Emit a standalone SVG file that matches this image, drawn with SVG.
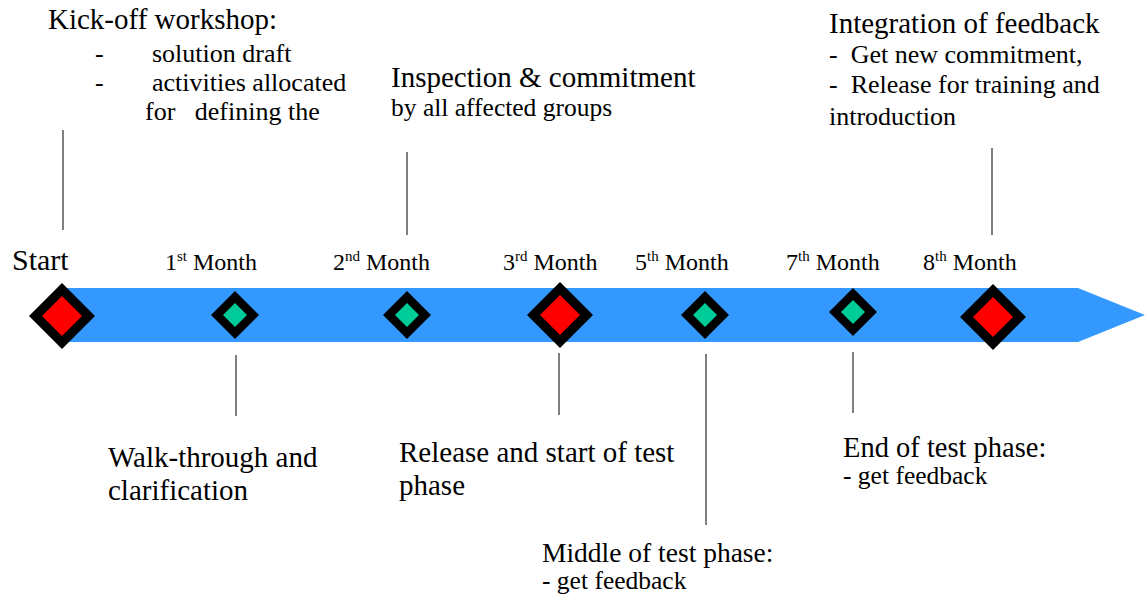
<svg xmlns="http://www.w3.org/2000/svg" width="1145" height="601" viewBox="0 0 1145 601">
  <style>
    text { font-family: "Liberation Serif", "Times New Roman", serif; fill: #000; }
    .title { font-size: 29px; }
    .sub { font-size: 26px; }
    .note { font-size: 25.5px; }
    .month { font-size: 24px; }
    .sup { font-size: 15px; }
    .lead { stroke: #808080; stroke-width: 2; fill: none; }
    .frame { fill: #000; }
    .red { fill: #FF0000; }
    .green { fill: #00CC99; }
  </style>
  <defs>
    <!-- milestone markers: outer black diamond + coloured core -->
    <g id="major">
      <polygon class="frame" points="0,-33 33,0 0,33 -33,0"/>
      <polygon class="red" points="0,-20 20,0 0,20 -20,0"/>
    </g>
    <g id="minor">
      <polygon class="frame" points="0,-24 24,0 0,24 -24,0"/>
      <polygon class="green" points="0,-12 12,0 0,12 -12,0"/>
    </g>
  </defs>

  <!-- timeline arrow -->
  <g id="timeline">
    <polygon points="66,288 1078,288 1145,315 1078,342 66,342" fill="#3399FF"/>
  </g>

  <!-- leader lines -->
  <g id="connectors">
    <line class="lead" x1="63" y1="130" x2="63" y2="230"/>
    <line class="lead" x1="407" y1="152" x2="407" y2="235"/>
    <line class="lead" x1="992" y1="148" x2="992" y2="235"/>
    <line class="lead" x1="236" y1="355" x2="236" y2="416"/>
    <line class="lead" x1="559" y1="353" x2="559" y2="415"/>
    <line class="lead" x1="706" y1="354" x2="706" y2="525"/>
    <line class="lead" x1="853" y1="352" x2="853" y2="413"/>
  </g>

  <!-- milestones -->
  <g id="m-start">
    <use href="#major" x="62" y="316"/>
    <text x="12" y="270" style="font-size:30px">Start</text>
    <text class="title" x="48" y="29">Kick-off workshop:</text>
    <text class="sub" x="95" y="62">-</text>
    <text class="sub" x="152" y="62">solution draft</text>
    <text class="sub" x="95" y="91">-</text>
    <text class="sub" x="152" y="91">activities allocated</text>
    <text class="sub" x="145" y="120" xml:space="preserve">for   defining the</text>
  </g>

  <g id="m-month1">
    <use href="#minor" x="235" y="315"/>
    <text class="month" x="165" y="270">1<tspan class="sup" dy="-9">st</tspan><tspan dy="9"> Month</tspan></text>
    <text class="title" x="108" y="467">Walk-through and</text>
    <text class="title" x="108" y="500">clarification</text>
  </g>

  <g id="m-month2">
    <use href="#minor" x="407" y="315"/>
    <text class="month" x="333" y="270">2<tspan class="sup" dy="-9">nd</tspan><tspan dy="9"> Month</tspan></text>
    <text class="title" x="391" y="87">Inspection &amp; commitment</text>
    <text class="note" x="391" y="116">by all affected groups</text>
  </g>

  <g id="m-month3">
    <use href="#major" x="560" y="315"/>
    <text class="month" x="503" y="270">3<tspan class="sup" dy="-9">rd</tspan><tspan dy="9"> Month</tspan></text>
    <text class="title" x="399" y="462">Release and start of test</text>
    <text class="title" x="399" y="495">phase</text>
  </g>

  <g id="m-month5">
    <use href="#minor" x="705" y="315"/>
    <text class="month" x="635" y="270">5<tspan class="sup" dy="-9">th</tspan><tspan dy="9"> Month</tspan></text>
    <text x="542" y="562" style="font-size:27.5px">Middle of test phase:</text>
    <text class="note" x="542" y="589">- get feedback</text>
  </g>

  <g id="m-month7">
    <use href="#minor" x="853" y="312"/>
    <text class="month" x="786" y="270">7<tspan class="sup" dy="-9">th</tspan><tspan dy="9"> Month</tspan></text>
    <text x="843" y="457" style="font-size:28.5px">End of test phase:</text>
    <text class="note" x="843" y="484">- get feedback</text>
  </g>

  <g id="m-month8">
    <use href="#major" x="993" y="317"/>
    <text class="month" x="923" y="270">8<tspan class="sup" dy="-9">th</tspan><tspan dy="9"> Month</tspan></text>
    <text class="title" x="829" y="33">Integration of feedback</text>
    <text class="sub" x="829" y="63" xml:space="preserve">-  Get new commitment,</text>
    <text class="sub" x="829" y="93" xml:space="preserve">-  Release for training and</text>
    <text class="sub" x="829" y="125">introduction</text>
  </g>
</svg>
